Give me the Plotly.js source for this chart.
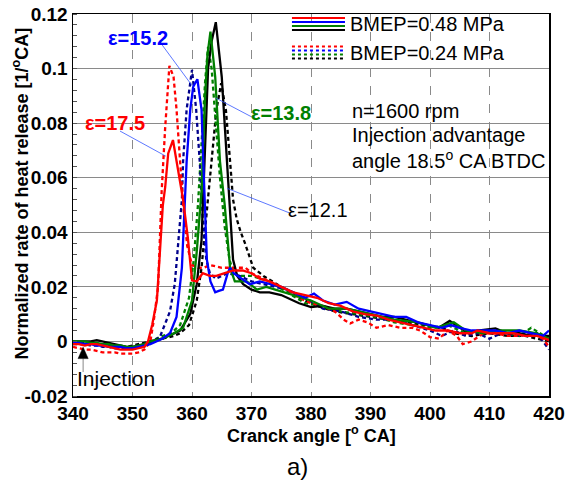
<!DOCTYPE html>
<html><head><meta charset="utf-8">
<script src="https://cdn.plot.ly/plotly-3.0.1.min.js"></script>
<style>html,body{margin:0;padding:0;background:#fff;}#c{width:566px;height:486px;}</style>
</head><body><div id="c"></div>
<script>
// ---- data ----
const xR48 = [340,341,342,343,344,345,346,347,348,349,350,351,352,352.6,353.3,354.1,355.1,355.5,356.0,356.8,357.7,358.5,359.3,360.0,360.8,361.8,363,364.1,365.5,366.9,368.5,370,371.4,373,375,377,379,381,383,385,387,389,391,393,395,397,399,401,403,405,407,408,410,412,414,416,418,420];
const yR48 = [-0.001,-0.001,-0.0015,-0.001,-0.001,-0.0015,-0.002,-0.0025,-0.003,-0.003,-0.003,-0.0025,-0.002,0.0,0.006,0.015,0.05,0.0566,0.0689,0.0738,0.0627,0.052,0.038,0.0224,0.022,0.025,0.024,0.024,0.025,0.026,0.026,0.025,0.023,0.022,0.020,0.018,0.017,0.016,0.014,0.013,0.011,0.010,0.0095,0.008,0.007,0.006,0.005,0.004,0.004,0.003,0.003,0.004,0.003,0.003,0.003,0.002,0.002,0.0005];

const xR24 = [340,341,342,343,344,345,346,347,348,349,350,351,352,353,353.6,354.3,354.9,355.5,356.2,356.9,357.4,358.0,358.6,359.2,360,361,362,363,365,367.5,369,370,372,374,376,378,380,382,384,385.5,386.6,388,389.5,391,393,395,397,398.3,400,401.5,403,404.5,405.5,407,409,411,413,415,417,419,420];
const yR24 = [-0.002,-0.0025,-0.003,-0.003,-0.0035,-0.004,-0.004,-0.004,-0.0045,-0.0045,-0.0045,-0.004,-0.003,0.0,0.008,0.02,0.055,0.0786,0.101,0.097,0.085,0.066,0.048,0.035,0.028,0.027,0.027,0.028,0.027,0.027,0.027,0.025,0.023,0.021,0.019,0.016,0.014,0.013,0.011,0.008,0.0066,0.008,0.007,0.005,0.006,0.005,0.005,0.004,0.0016,0.001,0.004,0.002,-0.001,0.0,0.003,0.003,0.002,0.002,0.003,0.001,-0.002];

const xB48 = [340,341,342,343,344,345,346,347,348,349,350,351,352,353,354,355,356.3,357.4,358.3,358.8,359.1,359.7,360.2,360.9,361.6,361.9,362.5,363.1,363.9,364.5,365.2,366.0,366.4,367,368,369.7,371.4,373,375,377,379,380.5,382,384,386,388,390,392,394,396,398,400,402,403.5,405,407,409,411,413,415,417,419,420];
const yB48 = [-0.0005,-0.0005,-0.001,-0.001,-0.0015,-0.0015,-0.002,-0.002,-0.002,-0.0025,-0.0025,-0.002,-0.0015,-0.001,0.0,0.001,0.003,0.009,0.027,0.052,0.066,0.0848,0.0934,0.0961,0.085,0.066,0.03,0.022,0.018,0.0185,0.019,0.025,0.027,0.025,0.0236,0.021,0.022,0.021,0.02,0.018,0.016,0.0175,0.015,0.0135,0.0145,0.012,0.011,0.010,0.009,0.009,0.007,0.006,0.005,0.006,0.005,0.004,0.004,0.004,0.003,0.004,0.003,0.002,0.004];

const xB24 = [340,341,342,343,344,345,346,347,348,349,350,351,352,353,354.6,356.3,357.1,357.7,358.3,358.5,359.1,360.0,360.7,361.3,361.8,362.4,363,364,365,366,368,370,372,374,376,379,382,385,388,391,394,397,400,402,404,406,408,410,412,415,418,420];
const yB24 = [-0.001,-0.001,-0.001,-0.0015,-0.0015,-0.002,-0.002,-0.0025,-0.0025,-0.0025,-0.002,-0.0015,-0.001,-0.0005,0.0016,0.011,0.021,0.036,0.052,0.066,0.085,0.0995,0.085,0.066,0.045,0.03,0.025,0.023,0.024,0.025,0.024,0.022,0.021,0.020,0.019,0.016,0.012,0.011,0.009,0.008,0.008,0.006,0.004,0.002,0.004,0.002,0.003,0.001,0.003,0.002,0.003,-0.003];

const xG48 = [340,341,342,343,344,345,346,347,348,349,350,351,352,353,354,355,356,357,358.5,360,360.8,361.6,362.2,362.6,363.1,363.9,364.7,365.5,366.4,367.2,368.2,369.2,370.9,372.5,374,377,380,383,386,390,394,398,401,404,406,409,412,415,418,420];
const yG48 = [0,0,0,-0.0005,-0.0005,-0.001,-0.001,-0.0015,-0.0015,-0.002,-0.002,-0.0015,-0.001,0,0.0005,0.001,0.002,0.003,0.005,0.015,0.033,0.055,0.09,0.105,0.1135,0.097,0.066,0.05,0.027,0.022,0.022,0.022,0.019,0.020,0.019,0.017,0.015,0.012,0.012,0.010,0.008,0.007,0.005,0.007,0.004,0.003,0.004,0.004,0.003,0.001];

const xG24 = [340,341,342,343,344,345,346,347,348,349,350,351,352,353,354,355,356.5,358,359.5,360.3,361,361.7,362.2,362.7,363.3,364,364.7,365.5,366.3,367,368,369,370,373,376,379,382,385,388,391,394,397,400,403,406,409,412,415,417,420];
const yG24 = [-0.0005,-0.0005,-0.001,-0.001,-0.001,-0.0015,-0.0015,-0.002,-0.002,-0.002,-0.002,-0.0015,-0.001,0,0.001,0.002,0.003,0.006,0.016,0.03,0.05,0.075,0.095,0.108,0.1,0.08,0.06,0.042,0.03,0.025,0.024,0.024,0.024,0.022,0.018,0.014,0.013,0.011,0.010,0.009,0.007,0.006,0.005,0.006,0.003,0.004,0.003,0.002,0.005,0.001];

const xK48 = [340,341,342,343,344,345,346,347,348,349,350,351,352,353,354,355,356,357,358,359.7,360.8,361.6,362.2,362.7,363.3,364.0,365.0,365.7,366.1,366.9,367.6,368.6,370,371.4,373,375,378,380,382,384,386,388,390,392,394,396,398,400,401.5,403.3,405,406.5,408,411,413,415,417,420];
const yK48 = [0,0,0,0,0.0005,0,-0.0005,-0.001,-0.0015,-0.002,-0.002,-0.0015,-0.001,0,0.0005,0.001,0.002,0.003,0.004,0.010,0.021,0.037,0.07,0.1,0.11,0.117,0.097,0.0726,0.0566,0.03,0.024,0.021,0.019,0.018,0.018,0.017,0.014,0.0126,0.013,0.012,0.012,0.011,0.010,0.009,0.009,0.008,0.007,0.006,0.005,0.0075,0.005,0.003,0.004,0.0048,0.003,0.003,0.002,0.002];

const xK24 = [340,341,342,343,344,345,346,347,348,349,350,351,352,353,354,355,356,357,358,359.5,360.8,361.6,362.5,363.3,364.1,364.9,365.7,366.4,366.9,367.5,368.2,368.9,370.3,372,375,378,381,384,387,390,393,396,399,402,404,407,410,413,416,418,420];
const yK24 = [-0.0005,-0.0005,-0.0005,-0.001,-0.001,-0.001,-0.0015,-0.0015,-0.002,-0.002,-0.0015,-0.001,-0.0005,0,0.0005,0.001,0.0015,0.002,0.003,0.006,0.015,0.027,0.048,0.066,0.0848,0.0946,0.0848,0.066,0.052,0.045,0.04,0.036,0.027,0.024,0.02,0.016,0.013,0.011,0.010,0.009,0.008,0.007,0.006,0.005,0.003,0.002,0.003,0.002,0.002,0.001,0.0];

const yTickVals = [-0.02,0,0.02,0.04,0.06,0.08,0.1,0.12];
const yTickText = ['-0.02','0','0.02','0.04','0.06','0.08','0.1','0.12'];
const xTickVals = [340,350,360,370,380,390,400,410,420];

// ---- styling ----
const C = {red:'#ff0000', blue:'#0000ff', navy:'#00008b', green:'#008000', black:'#000000'};
const DASH = '4px,3px';
const LW = 2.3;
function tr(x,y,color,dash){return {x:x,y:y,type:'scatter',mode:'lines',line:{color:color,width:LW,dash:dash||'solid'},showlegend:false,hoverinfo:'skip'};}

const data = [
  tr(xK24,yK24,C.black,DASH),
  tr(xG24,yG24,C.green,DASH),
  tr(xB24,yB24,C.navy,DASH),
  tr(xR24,yR24,C.red,DASH),
  tr(xK48,yK48,C.black),
  tr(xG48,yG48,C.green),
  tr(xB48,yB48,C.blue),
  tr(xR48,yR48,C.red)
];

const F = 'Liberation Sans, Arial, sans-serif';
const shapes = [];
// legend samples (paper coordinates)
const solidY = [0.9895,0.979,0.9686,0.958];
const dashY = [0.915,0.9045,0.894,0.8835];
const legCols = [C.red,C.blue,C.green,C.black];
for(let i=0;i<4;i++){
  shapes.push({type:'line',xref:'paper',yref:'paper',x0:0.46,x1:0.5714,y0:solidY[i],y1:solidY[i],line:{color:legCols[i],width:2}});
  shapes.push({type:'line',xref:'paper',yref:'paper',x0:0.46,x1:0.5714,y0:dashY[i],y1:dashY[i],line:{color:legCols[i],width:2,dash:'3px,3px'}});
}
// leader lines for epsilon labels
function lead(x0,y0,x1,y1){shapes.push({type:'line',xref:'x',yref:'y',x0:x0,y0:y0,x1:x1,y1:y1,line:{color:'#3355ff',width:0.8}});}
lead(355.0,0.1086,360.2,0.0932);
lead(347.9,0.0771,355.6,0.0679);
lead(370.1,0.0822,364.0,0.0892);
lead(376.5,0.047,365.9,0.0561);
// injection arrow: grey stem + black head
shapes.push({type:'line',xref:'x',yref:'y',x0:341.7,x1:341.7,y0:-0.0062,y1:-0.0112,line:{color:'#888',width:1}});
shapes.push({type:'path',xref:'x',yref:'y',path:'M 341.7 -0.0021 L 340.85 -0.0063 L 342.55 -0.0063 Z',fillcolor:'#000',line:{color:'#000',width:0.5}});

const annotations = [
  {xref:'paper',yref:'paper',x:0.578,y:0.9738,xanchor:'left',yanchor:'middle',text:'BMEP=0.48 MPa',showarrow:false,font:{family:F,size:20,color:'#000'}},
  {xref:'paper',yref:'paper',x:0.578,y:0.8987,xanchor:'left',yanchor:'middle',text:'BMEP=0.24 MPa',showarrow:false,font:{family:F,size:20,color:'#000'}},
  {x:350.9,y:0.1112,text:'ε=15.2',showarrow:false,font:{family:F,size:20,color:C.blue,weight:'bold'}},
  {x:347.0,y:0.080,text:'ε=17.5',showarrow:false,font:{family:F,size:20,color:C.red,weight:'bold'}},
  {x:375.0,y:0.0837,text:'ε=13.8',showarrow:false,font:{family:F,size:20,color:C.green,weight:'bold'}},
  {x:381.2,y:0.0481,text:'ε=12.1',showarrow:false,font:{family:F,size:20,color:'#000'}},
  {x:386.5,y:0.0844,xanchor:'left',yanchor:'middle',text:'n=1600 rpm',showarrow:false,font:{family:F,size:20,color:'#000'}},
  {x:386.5,y:0.0756,xanchor:'left',yanchor:'middle',text:'Injection advantage',showarrow:false,font:{family:F,size:20,color:'#000'}},
  {x:386.5,y:0.0668,xanchor:'left',yanchor:'middle',text:'angle 18.5<sup>o</sup> CA BTDC',showarrow:false,font:{family:F,size:20,color:'#000'}},
  {x:347.3,y:-0.0136,text:'Injection',showarrow:false,font:{family:F,size:21,color:'#000'}},
  {xref:'paper',yref:'paper',x:0.4706,y:-0.185,yanchor:'middle',text:'a)',showarrow:false,font:{family:F,size:24,color:'#000'}},
  // axis titles
  {xref:'paper',yref:'paper',x:-0.1092,y:0.53,xanchor:'center',yanchor:'middle',textangle:-90,
   text:'Normalized rate of heat release [1/<sup>o</sup>CA]',showarrow:false,font:{family:F,size:18,weight:'bold',color:'#000'}},
  {xref:'paper',yref:'paper',x:0.5,y:-0.0995,xanchor:'center',yanchor:'middle',
   text:'Cranck angle [<sup>o</sup> CA]',showarrow:false,font:{family:F,size:18,weight:'bold',color:'#000'}}
];

const layout = {
  width:566,height:486,
  margin:{l:73,r:17,t:14,b:90},
  paper_bgcolor:'#fff',plot_bgcolor:'#fff',
  font:{family:F,color:'#000'},
  showlegend:false,
  xaxis:{range:[340,420],tickvals:xTickVals,showgrid:true,gridcolor:'#8a8a8a',gridwidth:1,griddash:'dash',
    zeroline:false,showline:true,mirror:true,linecolor:'#000',linewidth:1.5,ticks:'',
    tickfont:{family:F,size:19,weight:'bold'}},
  yaxis:{range:[-0.02,0.12],tickvals:yTickVals,ticktext:yTickText,showgrid:true,gridcolor:'#8a8a8a',gridwidth:1,
    zeroline:false,showline:true,mirror:true,linecolor:'#000',linewidth:1.5,ticks:'',
    minor:{dtick:0.004,ticks:'inside',ticklen:4,tickcolor:'#555',showgrid:false},
    tickfont:{family:F,size:19,weight:'bold'}},
  shapes:shapes,
  annotations:annotations
};
Plotly.newPlot('c',data,layout,{staticPlot:true,displayModeBar:false});
</script></body></html>
